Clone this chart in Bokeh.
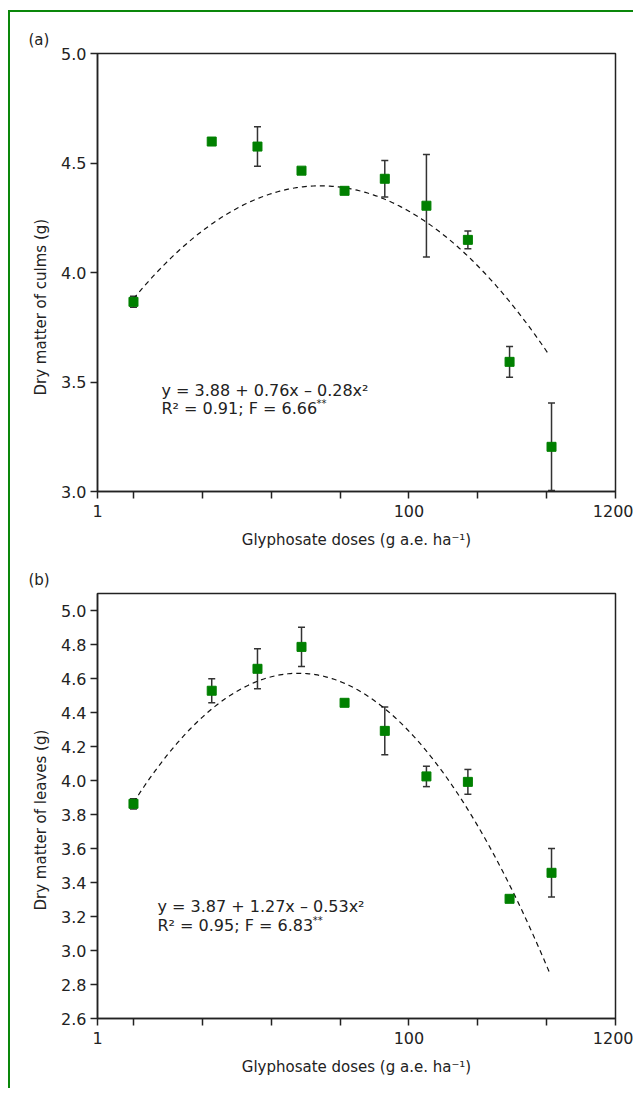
import numpy as np
from bokeh.plotting import figure
from bokeh.layouts import column
from bokeh.models import (ColumnDataSource, Whisker, TeeHead, FixedTicker,
                          CustomJSTickFormatter, Label, Range1d, Title)
from bokeh.embed import file_html
from bokeh.resources import INLINE

# ---------------- data ----------------
doses = [1.0, 3.7, 7.95, 16.6, 34.1, 66.8, 134, 268, 538, 1085]
culms = [3.866, 4.598, 4.575, 4.465, 4.373, 4.428, 4.305, 4.149, 3.592, 3.204]
culms_err = [0.025, 0.0, 0.09, 0.0, 0.01, 0.083, 0.234, 0.04, 0.07, 0.2]
leaves = [3.863, 4.528, 4.657, 4.786, 4.457, 4.292, 4.024, 3.992, 3.304, 3.457]
leaves_err = [0.03, 0.07, 0.118, 0.115, 0.01, 0.14, 0.06, 0.073, 0.015, 0.143]
culms_coef = [3.88, 0.76, -0.28]
leaves_coef = [3.87, 1.27, -0.53]
fit_log_end = 3.02
x_tick_values = [0.548, 1, 3.162, 10, 31.62, 100, 316.2, 1000, 3162]
x_tick_labels = ["1", "", "", "", "", "100", "", "", "1200"]
culms_yticks = [3.0, 3.5, 4.0, 4.5, 5.0]
leaves_yticks = [2.6, 2.8, 3.0, 3.2, 3.4, 3.6, 3.8, 4.0, 4.2, 4.4, 4.6, 4.8, 5.0]

FONT = "DejaVu Sans"
TXT = "#222222"
GREEN = "#008000"


def make_panel(tag, y, err, coef, ylabel, eq1, eq2, yr, yticks, height,
               b_top, b_bottom, ylab_offset, pos):
    p = figure(width=623, height=height, x_axis_type="log",
               x_range=Range1d(x_tick_values[0], x_tick_values[-1]),
               y_range=Range1d(*yr), output_backend="svg",
               toolbar_location=None, min_border_left=87, min_border_right=18,
               min_border_top=b_top, min_border_bottom=b_bottom)
    p.grid.visible = False
    p.outline_line_color = "#222222"
    p.outline_line_width = 1.5
    p.background_fill_color = "white"
    p.border_fill_color = "white"

    for ax in (p.xaxis[0], p.yaxis[0]):
        ax.axis_line_color = "#222222"
        ax.axis_line_width = 1.5
        ax.major_tick_line_color = "#222222"
        ax.major_tick_line_width = 1.5
        ax.major_tick_out = 7
        ax.major_tick_in = 0
        ax.minor_tick_line_color = None
        ax.major_label_text_font = FONT
        ax.major_label_text_font_size = "16px"
        ax.major_label_text_color = TXT

    p.xaxis.ticker = FixedTicker(ticks=x_tick_values)
    p.xaxis.formatter = CustomJSTickFormatter(
        args=dict(vals=x_tick_values, labs=x_tick_labels),
        code="""
        for (let i = 0; i < vals.length; i++) {
            if (Math.abs(tick - vals[i]) < 1e-6 * vals[i]) return labs[i];
        }
        return "";
        """)
    p.xaxis.major_label_standoff = 6
    p.xaxis.axis_label = "Glyphosate doses (g a.e. ha\u207b\u00b9)"
    p.xaxis.axis_label_text_font = FONT
    p.xaxis.axis_label_text_font_size = "15px"
    p.xaxis.axis_label_text_font_style = "normal"
    p.xaxis.axis_label_text_color = TXT
    p.xaxis.axis_label_standoff = 11

    p.yaxis.ticker = FixedTicker(ticks=yticks)
    p.yaxis.formatter = CustomJSTickFormatter(code="return tick.toFixed(1);")
    p.yaxis.major_label_standoff = 4

    # fitted curve from the printed equation (x = log10 dose)
    L = np.linspace(0, fit_log_end, 200)
    yfit = coef[0] + coef[1] * L + coef[2] * L ** 2
    p.line(10 ** L, yfit, line_color="#111111", line_width=1.2,
           line_dash="5 4")

    src = ColumnDataSource(dict(
        x=doses, y=y,
        lo=[v - e for v, e in zip(y, err)],
        hi=[v + e for v, e in zip(y, err)]))
    w = Whisker(base="x", lower="lo", upper="hi", source=src,
                line_color="#333333", line_width=1.5,
                upper_head=TeeHead(size=7, line_color="#333333", line_width=1.5),
                lower_head=TeeHead(size=7, line_color="#333333", line_width=1.5))
    w.level = "underlay"
    p.add_layout(w)
    p.scatter("x", "y", source=src, marker="square", size=9,
              fill_color=GREEN, line_color=GREEN)

    # y-axis label (as a side title so it can be shifted along the axis)
    p.add_layout(Title(text=ylabel, align="left", offset=ylab_offset,
                       standoff=18, text_font=FONT, text_font_size="15px",
                       text_font_style="normal", text_color=TXT), "left")
    # panel tag
    p.add_layout(Title(text=tag, align="left", offset=-69, standoff=10,
                       text_font=FONT, text_font_size="15px",
                       text_font_style="normal", text_color=TXT), "above")

    eq_x, eq_y1, eq_y2, st_x, st_y = pos
    p.add_layout(Label(x=eq_x, y=eq_y1, text=eq1, text_align="left",
                       text_baseline="middle", text_font=FONT,
                       text_font_size="16px", text_color=TXT))
    p.add_layout(Label(x=eq_x, y=eq_y2, text=eq2, text_align="left",
                       text_baseline="middle", text_font=FONT,
                       text_font_size="16px", text_color=TXT))
    p.add_layout(Label(x=st_x, y=st_y, text="**", text_align="left",
                       text_baseline="middle", text_font=FONT,
                       text_font_size="10px", text_color=TXT))
    return p


p1 = make_panel("(a)", culms, culms_err, culms_coef,
                "Dry matter of culms (g)",
                "y = 3.88 + 0.76x \u2013 0.28x\u00b2",
                "R\u00b2 = 0.91; F = 6.66",
                (3.0, 5.0), culms_yticks, 548, 41, 69, 96,
                (1.597, 3.4604, 3.378, 21.3, 3.401))
p2 = make_panel("(b)", leaves, leaves_err, leaves_coef,
                "Dry matter of leaves (g)",
                "y = 3.87 + 1.27x \u2013 0.53x\u00b2",
                "R\u00b2 = 0.95; F = 6.83",
                (2.6, 5.1), leaves_yticks, 528, 33, 70, 108,
                (1.494, 3.259, 3.147, 20.0, 3.176))

layout = column(p1, p2, spacing=0,
                styles={"margin-left": "8px", "margin-top": "10px",
                        "border-top": "2px solid #0a870a",
                        "border-left": "2px solid #0a870a"})

open("out.html", "w").write(file_html(layout, INLINE))
